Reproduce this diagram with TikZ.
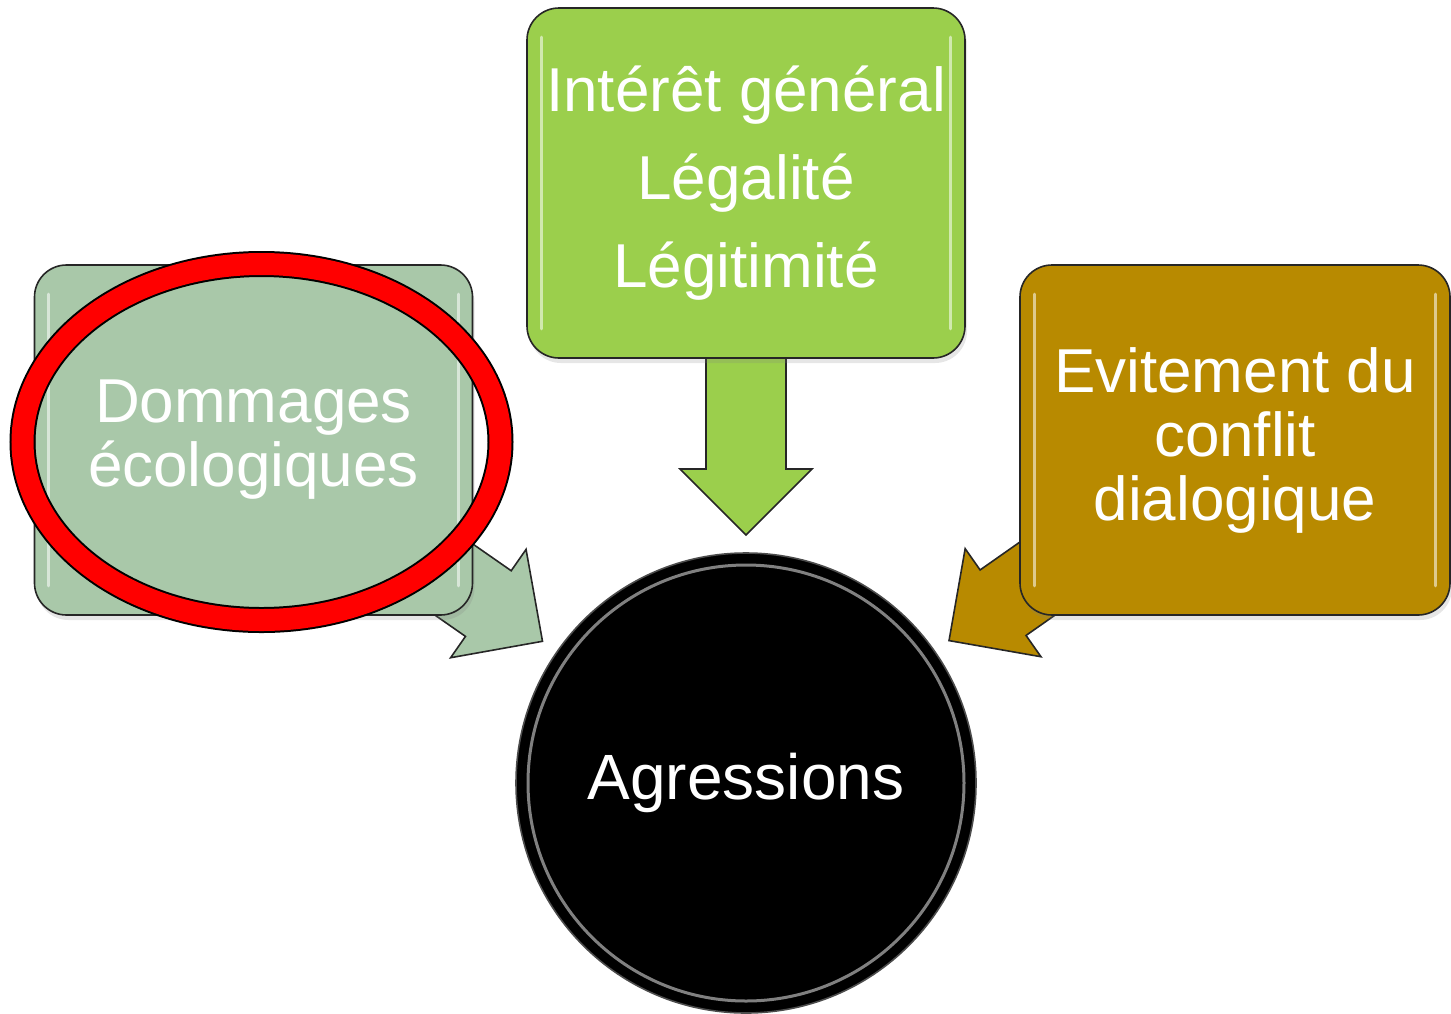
\documentclass[tikz,border=0pt]{standalone}
\usepackage{fontspec}
\setmainfont{Liberation Sans}
\usetikzlibrary{shapes.geometric, arrows, positioning, calc, backgrounds, shadows}
\definecolor{damagecolor}{RGB}{169,200,169}
\definecolor{lawcolor}{RGB}{155,207,76}
\definecolor{avoidcolor}{RGB}{184,138,0}
\definecolor{markcolor}{RGB}{255,0,0}
\tikzstyle{box} = [rectangle, draw=black!85, line width=0.8pt, rounded corners=16pt, minimum height=175pt, text=white, align=center, font=\fontsize{31}{32}\selectfont, drop shadow={opacity=0.2, shadow xshift=1pt, shadow yshift=-2.5pt}]
\tikzstyle{blockarrow} = [draw=black!85, line width=0.8pt, line join=miter]
\tikzstyle{shine} = [white, opacity=0.55, line width=1.5pt, line cap=round]

% block arrow from the centre of #2 towards node #3, filled with #1
\newcommand{\bigarrow}[3]{%
  \coordinate (tip) at ($(#3.center)!124pt!(#2.center)$);
  \coordinate (base) at ($(tip)!33pt!(#2.center)$);
  \filldraw[blockarrow, fill=#1] ($(#2.center)!20pt!90:(tip)$) -- ($(base)!20pt!90:(tip)$)
    -- ($(base)!33pt!90:(tip)$) -- (tip) -- ($(base)!33pt!-90:(tip)$)
    -- ($(base)!20pt!-90:(tip)$) -- ($(#2.center)!20pt!-90:(tip)$) -- cycle;
}

\begin{document}
\begin{tikzpicture}[x=0.5pt, y=-0.5pt]

\useasboundingbox (0,0) rectangle (1451,1013);

% Boxes
\node[box, fill=damagecolor, minimum width=219pt] (dom) at (253.5,440) {Dommages\\écologiques};
\node[box, fill=lawcolor, minimum width=219pt] (law) at (746,183) {Intérêt général\\[12pt]Légalité\\[12pt]Légitimité};
\node[box, fill=avoidcolor, minimum width=215pt] (avoid) at (1235,440) {Evitement du\\conflit\\dialogique};

% Centre circle
\node[circle, fill=black, draw=black!70, line width=0.8pt, minimum size=230pt, text=white, font=\fontsize{32}{34}\selectfont] (agr) at (746,783) {Agressions};
\draw[white, opacity=0.5, line width=1.5pt] (agr.center) circle [radius=109pt];

% Glossy edges
\foreach \b in {dom, law, avoid} {
  \draw[shine] ($(\b.north west)+(15,30)$) -- ($(\b.south west)+(15,-30)$);
  \draw[shine] ($(\b.north east)+(-15,30)$) -- ($(\b.south east)+(-15,-30)$);
}

% Arrows into the circle
\begin{scope}[on background layer]
\bigarrow{damagecolor}{dom}{agr}
\bigarrow{lawcolor}{law}{agr}
\bigarrow{avoidcolor}{avoid}{agr}
\end{scope}

% Red mark round the first box
\draw[black, line width=13pt] ($(dom.center)+(8,2)$) ellipse [x radius=119.5pt, y radius=89pt];
\draw[markcolor, line width=11pt] ($(dom.center)+(8,2)$) ellipse [x radius=119.5pt, y radius=89pt];

\end{tikzpicture}
\end{document}
